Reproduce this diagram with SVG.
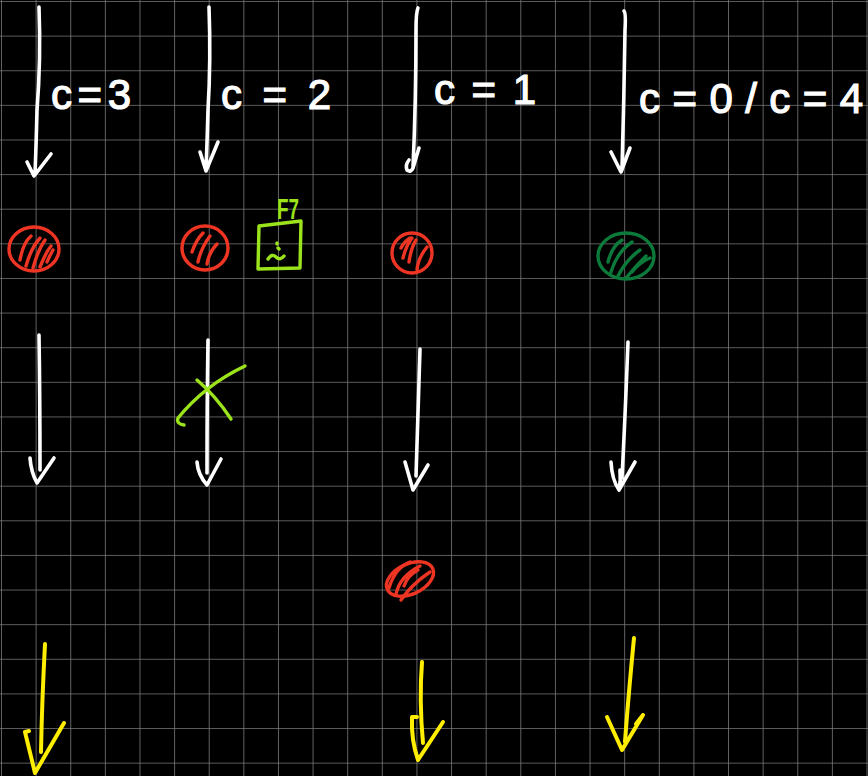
<svg xmlns="http://www.w3.org/2000/svg" width="868" height="776" viewBox="0 0 868 776">
<defs>
<pattern id="grid" x="1" y="1" width="34.62" height="34.62" patternUnits="userSpaceOnUse">
<path d="M0 0 H34.62 M0 0 V34.62" fill="none" stroke="#7a7a7a" stroke-width="1.6"/>
</pattern>
<style>
.w{fill:none;stroke:#ffffff;stroke-width:3.6;stroke-linecap:round;stroke-linejoin:round}
.y{fill:none;stroke:#ffee00;stroke-width:4;stroke-linecap:round;stroke-linejoin:round}
.r{fill:none;stroke:#ee3524;stroke-width:3.4;stroke-linecap:round;stroke-linejoin:round}
.g{fill:none;stroke:#0b7a3a;stroke-width:3.4;stroke-linecap:round;stroke-linejoin:round}
.l{fill:none;stroke:#9be31b;stroke-width:3.4;stroke-linecap:round;stroke-linejoin:round}
.t{fill:#ffffff;stroke:#ffffff;stroke-width:1.2;font-family:"Liberation Sans","DejaVu Sans",sans-serif;font-size:42px}
</style>
</defs>
<rect width="868" height="776" fill="#000"/>
<rect width="868" height="776" fill="url(#grid)"/>

<g id="connectors">
<path class="w" d="M39 7 Q41 60 37 110 Q36 150 35 174 M27 162 L34 176 L51 154"/>
<path class="w" d="M209 7 Q211 60 208 110 Q207 145 206 170 M200 152 L206 171 L218 142"/>
<path class="w" d="M418 8 Q416 12 416 30 Q416 100 413 168 M409 160 Q405 165 407 170 Q411 173 413 168 L419 148"/>
<path class="w" d="M624 11 Q626 13 625 30 Q624 100 622 170 M611 152 L621 172 L630 148"/>
<path class="w" d="M39 335 Q40 400 40 470 M30 458 Q31 472 37 483 L54 458"/>
<path class="w" d="M208 340 Q207 400 207 473 M197 462 Q198 475 207 485 L221 459"/>
<path class="w" d="M420 349 Q418 420 416 476 M405 462 L413 490 L428 465"/>
<path class="w" d="M628 342 Q625 420 622 478 M611 462 Q612 480 619 490 Q621 480 620 470 M619 490 L635 462"/>
<path class="y" d="M45 644 Q42 700 41 752 M29 731 L25 732 L35 773 L64 723"/>
<path class="y" d="M422 662 Q419 700 423 743 M417 717 L412 717 Q411 740 418 760 L443 722"/>
<path class="y" d="M634 638 Q628 700 625 742 M607 717 L622 750 L643 715 M636 724 L643 715"/>
</g>

<g id="label-c3"><text class="t" x="51" y="109" textLength="80" lengthAdjust="spacing">c=3</text></g>
<g id="label-c2"><text class="t" x="221" y="109" textLength="110" lengthAdjust="spacing">c=2</text></g>
<g id="label-c1"><text class="t" x="434" y="104" textLength="102" lengthAdjust="spacing">c=1</text></g>
<g id="label-c0c4"><text class="t" x="639" y="113" font-size="44" textLength="224" lengthAdjust="spacing">c=0/c=4</text></g>

<g id="red-dot-1">
<ellipse class="r" cx="34" cy="249" rx="25" ry="22"/>
<path class="r" d="M20 260 Q23 243 31 236 M26 266 Q31 248 40 238 M33 268 Q38 250 45 240 M40 267 Q46 252 51 246 M47 262 Q50 255 53 250"/>
</g>
<g id="red-dot-2">
<ellipse class="r" cx="205" cy="248" rx="23" ry="22"/>
<path class="r" d="M192 252 Q196 240 203 233 M198 262 Q201 248 210 236 M207 264 Q209 252 217 244"/>
</g>
<g id="block-f7">
<path class="l" d="M259 226 L301 221 L300 268 L258 269 Z"/>
<text x="277" y="219" font-family="Liberation Sans, sans-serif" font-size="30" font-weight="bold" fill="#9be31b" textLength="22" lengthAdjust="spacingAndGlyphs">F7</text>
<path class="l" d="M277 243 L277 244 M278 248 L279 249 M268 259 Q272 253 276 257 Q280 261 284 256"/>
</g>
<g id="red-dot-3">
<ellipse class="r" cx="412" cy="253" rx="20" ry="20"/>
<path class="r" d="M401 248 Q404 242 410 238 M403 258 Q406 246 412 238 M409 262 Q411 248 416 240 M417 270 Q418 258 427 247"/>
</g>
<g id="green-dot">
<ellipse class="g" cx="626" cy="256" rx="28" ry="23"/>
<path class="g" d="M608 262 Q612 246 622 240 M611 272 Q617 252 632 242 M618 276 Q626 260 640 250 M626 278 Q636 266 646 256 M632 272 Q640 262 650 258"/>
</g>
<g id="cross">
<path class="l" d="M184 425 Q176 424 178 418 Q205 385 245 366 M197 380 Q215 395 231 419"/>
</g>
<g id="red-dot-4">
<ellipse class="r" cx="410" cy="579" rx="25" ry="15" transform="rotate(-25 410 579)"/>
<path class="r" d="M389 588 Q395 568 410 562 M396 594 Q400 576 420 566 M401 600 Q412 584 430 572 M404 586 Q408 575 418 570"/>
</g>
</svg>
